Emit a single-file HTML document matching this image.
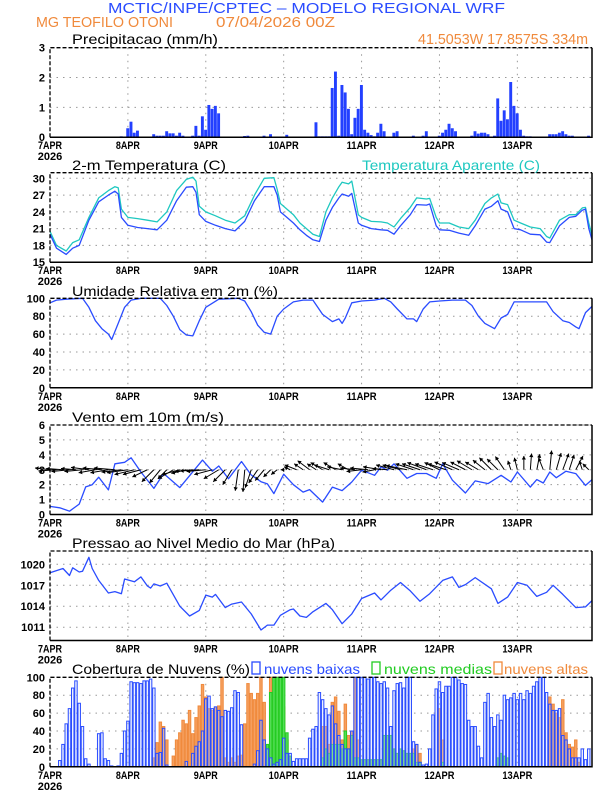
<!DOCTYPE html>
<html><head><meta charset="utf-8"><style>
body{margin:0;background:#fff;}
svg{display:block;font-family:"Liberation Sans","DejaVu Sans",sans-serif;}
.tk{font-size:11px;font-weight:bold;fill:#000;}
.tt{font-size:14px;fill:#000;}
</style></head><body>
<svg id="chart" width="612" height="792" viewBox="0 0 612 792" xmlns="http://www.w3.org/2000/svg">
<text x="108" y="13" font-size="15" fill="#2a4cff" textLength="397" lengthAdjust="spacingAndGlyphs">MCTIC/INPE/CPTEC – MODELO REGIONAL WRF</text>
<text x="36" y="27" font-size="15" fill="#f08a3c" textLength="137" lengthAdjust="spacingAndGlyphs">MG TEOFILO OTONI</text>
<text x="216" y="27" font-size="15" fill="#f08a3c" textLength="119" lengthAdjust="spacingAndGlyphs">07/04/2026 00Z</text>
<text x="418" y="44" font-size="15" fill="#f08a3c" textLength="170" lengthAdjust="spacingAndGlyphs">41.5053W 17.8575S 334m</text>
<text class="tt" x="72" y="44" textLength="146" lengthAdjust="spacingAndGlyphs">Precipitacao (mm/h)</text>
<text class="tt" x="72" y="170" textLength="154" lengthAdjust="spacingAndGlyphs">2-m Temperatura (C)</text>
<text class="tt" x="362" y="170" fill="#1ec8c0" style="fill:#1ec8c0" textLength="178" lengthAdjust="spacingAndGlyphs">Temperatura Aparente (C)</text>
<text class="tt" x="72" y="296" textLength="206" lengthAdjust="spacingAndGlyphs">Umidade Relativa em 2m (%)</text>
<text class="tt" x="72" y="422" textLength="152" lengthAdjust="spacingAndGlyphs">Vento em 10m (m/s)</text>
<text class="tt" x="72" y="548" textLength="263" lengthAdjust="spacingAndGlyphs">Pressao ao Nivel Medio do Mar (hPa)</text>
<text class="tt" x="72" y="674" textLength="178" lengthAdjust="spacingAndGlyphs">Cobertura de Nuvens (%)</text>
<rect x="252" y="662" width="8" height="12" fill="none" stroke="#2a4cff" stroke-width="1.3"/>
<text x="264" y="674" font-size="14" fill="#2a4cff" textLength="96" lengthAdjust="spacingAndGlyphs">nuvens baixas</text>
<rect x="372" y="662" width="8" height="12" fill="none" stroke="#22cc22" stroke-width="1.3"/>
<text x="384" y="674" font-size="14" fill="#22cc22" textLength="108" lengthAdjust="spacingAndGlyphs">nuvens medias</text>
<rect x="494" y="662" width="8" height="12" fill="none" stroke="#f08a3c" stroke-width="1.3"/>
<text x="504" y="674" font-size="14" fill="#f08a3c" textLength="84" lengthAdjust="spacingAndGlyphs">nuvens altas</text>
</svg>
<script>
const dayLabels=["7APR","8APR","9APR","10APR","11APR","12APR","13APR"];
const precipHours=[7,11,22,24,25,26,27,28,29,30,31,32,33,34,35,36,37,38,39,40,41,42,43,44,45,46,47,48,49,50,51,52,60,61,66,68,73,82,83,84,85,86,87,88,89,90,91,92,93,94,95,96,97,98,99,100,101,102,103,106,107,112,115,116,120,121,122,123,124,125,130,131,132,133,134,135,137,138,139,140,141,142,143,144,145,146,147,148,154,155,156,157,158,159,160,161,166];
const precipVals=[0.02,0.02,0.03,0.3,0.52,0.15,0.22,0.02,0.02,0.02,0.02,0.1,0.05,0.05,0.05,0.2,0.13,0.13,0.05,0.15,0.05,0.02,0.02,0.05,0.38,0.05,0.7,0.25,1.08,0.95,1.05,0.8,0.04,0.05,0.05,0.1,0.08,0.5,0.03,0.03,0.03,0.03,1.65,2.2,0.05,1.75,1.5,0.95,0.1,0.65,0.95,1.75,0.25,0.15,0.07,0.03,0.15,0.45,0.2,0.15,0.2,0.05,0.05,0.2,0.05,0.15,0.25,0.45,0.3,0.2,0.05,0.2,0.12,0.15,0.15,0.1,0.05,1.3,0.55,0.9,0.6,1.85,1.05,0.8,0.25,0.05,0.03,0.03,0.1,0.1,0.1,0.15,0.2,0.1,0.05,0.05,0.05];
const tHours=[0,2,5,7,9,12,15,18,20,21,22,24,27,30,33,36,39,42,44,45,46,48,51,54,57,60,63,66,69,70,71,73,75,77,79,81,83,85,87,89,90,92,93,95,96,99,102,104,106,108,111,113,116,117,119,120,123,126,129,131,134,136,138,139,141,143,145,148,151,153,154,157,160,162,164,165,166,167];
const tempVals=[20.0,17.5,16.4,17.5,18.0,22.5,25.8,27.0,27.7,27.2,23.0,21.6,21.2,21.0,20.8,22.5,26.0,28.4,28.5,27.5,23.5,22.3,21.6,21.0,20.6,22.3,26.0,28.5,28.5,27.0,24.0,23.0,22.0,20.8,19.8,19.0,18.7,22.5,24.8,26.5,27.2,26.8,27.3,22.0,21.6,21.0,20.8,20.7,20.0,21.5,23.5,25.3,25.2,25.4,21.5,20.8,20.7,20.2,19.8,21.5,24.5,25.0,26.0,24.5,24.0,21.0,20.8,20.0,19.9,18.6,18.5,21.5,23.0,23.2,24.3,24.5,21.0,19.0];
const appTempVals=[20.5,18.0,17.0,18.5,19.0,23.0,26.5,27.8,28.5,28.3,24.5,23.0,22.8,22.5,22.2,24.0,27.8,29.8,30.2,29.5,25.0,24.0,23.3,22.5,22.0,23.3,27.0,30.0,30.1,28.0,25.5,24.5,23.5,22.0,21.0,20.0,19.6,24.0,26.5,28.5,29.3,29.0,29.5,23.5,23.0,22.3,22.2,22.0,21.3,22.8,24.8,26.5,26.3,26.4,23.0,22.0,22.0,21.3,21.0,22.5,25.5,26.5,27.2,25.6,25.3,22.5,22.0,21.3,21.0,19.6,19.3,22.5,23.5,23.5,24.7,24.8,22.0,19.8];
const rhHours=[0,2,5,10,12,14,16,18,19,21,23,25,28,34,36,38,40,42,44,46,48,52,58,60,62,64,66,68,70,72,75,78,81,84,87,89,90,91,93,96,100,103,105,107,110,112,113,115,117,120,124,128,130,132,134,136,137,139,141,143,146,150,153,155,158,160,162,163,165,167];
const rhVals=[95,98,99,100,90,75,66,60,54,72,90,98,100,100,92,80,65,59,58,75,90,99,100,97,85,70,62,60,80,88,96,98,98,82,74,77,72,78,95,97,98,100,96,88,77,77,74,88,96,97,98,98,92,80,72,68,66,78,82,96,96,96,96,85,75,73,68,66,84,91];
const wsHours=[0,3,5,6,9,11,13,15,18,20,23,25,28,32,35,40,47,50,52,55,59,62,65,67,69,72,75,78,80,84,87,90,93,96,100,102,104,106,110,113,116,119,121,124,128,131,135,139,142,144,148,150,152,154,156,159,162,165,167];
const wsVals=[0.54,0.45,0.3,0.22,0.7,1.85,2.0,2.5,1.65,3.4,3.5,3.8,2.85,1.75,2.75,1.8,3.65,2.9,3.25,2.4,3.55,2.65,2.2,2.05,1.4,2.7,2.0,1.5,1.67,0.83,1.84,1.6,2.18,2.97,2.63,3.19,2.97,3.4,2.43,2.75,2.75,2.43,3.4,2.3,1.44,2.25,2.07,2.63,2.18,2.85,1.84,2.34,2.11,2.85,2.47,2.9,2.74,1.95,2.34];
const windU=[-2.5,-3,-2.8,-3,-2.5,-3,-3,-2.8,-3.2,-3,-3.5,-3.3,-3.5,-3.3,-3,-2.5,-2,-1.8,-1.5,-2.5,-3,-2.5,-3,-3.2,-3.2,-3,-2.5,-2,-1.5,-0.5,-0.3,-1,-1.5,-1.5,-1.2,-1,-0.5,-1,-2,-1.5,-2,-1.5,-2,-2.5,-2,-2.5,-1.8,-2.5,-2.5,-3,-2,-3,-2.5,-3,-3,-3.5,-3,-3,-3.2,-3,-2.5,-3,-3,-2.8,-2.5,-2.5,-2.2,-2,-2,-1.8,-1.5,-0.5,-0.5,0,0.2,0.5,-0.8,0.3,0.8,1,0.8,1.2,-0.5,-1];
const windV=[0.3,-0.2,0.2,-0.3,0.2,-0.3,0.4,-0.5,0.3,-0.5,0.3,-0.4,-0.5,-0.8,-0.8,-1.2,-2,-2.2,-1.5,-1.5,-0.8,-0.6,-0.3,-0.2,-0.3,-0.8,-1.5,-2,-2.5,-3.5,-3.7,-3,-2.2,-1.8,-1.2,-0.8,0,0.5,0.8,1,1.5,1,1.2,0.8,1.2,0.5,1,0.3,-0.3,0.3,-0.4,0.5,0.2,0.8,0.8,0.7,1,1,1.2,1,1.2,1,1.3,1.2,1.3,1.5,1.3,1.6,2,1.8,2.2,1.5,2,2.3,2.7,2.6,2,3.2,2.8,2.7,2.5,2.3,1.5,1];
const pHours=[0,4,6,7,9,10,12,13,15,18,20,22,23,26,28,30,31,32,34,36,40,43,46,48,50,51,54,56,59,62,65,67,69,71,74,75,77,79,81,85,87,90,93,96,100,102,105,108,111,114,117,121,124,126,128,131,136,138,141,144,147,150,153,155,158,162,165,167];
const pVals=[1018.8,1019.4,1018.4,1019.5,1018.9,1019.0,1021.0,1019.4,1017.7,1015.9,1016.1,1015.8,1017.9,1017.5,1018.2,1016.9,1016.6,1017.2,1016.9,1017.3,1014.0,1012.6,1013.4,1015.6,1015.3,1015.7,1013.8,1014.3,1014.6,1012.9,1010.6,1011.3,1011.3,1012.7,1013.5,1013.6,1012.6,1012.4,1013.2,1014.4,1013.5,1011.5,1012.9,1015.1,1015.9,1014.9,1016.3,1017.4,1016.2,1014.7,1015.8,1017.7,1018.2,1016.7,1017.1,1018.1,1016.5,1014.4,1015.3,1017.4,1017.0,1015.4,1016.0,1017.0,1015.7,1013.8,1013.9,1014.8];
const lowCloud=[0,0,0,7,25,48,65,88,96,71,45,9,3,0,0,37,38,9,7,1,0,1,15,40,51,95,94,94,93,96,96,98,88,15,16,43,2,0,0,0,0,0,6,0,15,23,28,40,76,79,65,67,63,56,63,62,66,85,83,47,0,0,0,3,18,52,30,20,10,3,5,8,32,15,15,6,9,9,9,9,32,42,45,83,75,65,58,68,48,35,25,20,20,40,100,100,100,100,98,100,100,95,93,95,88,45,85,93,94,88,100,100,28,25,5,2,3,20,58,87,95,83,90,90,100,100,97,93,92,52,45,45,23,10,72,82,55,45,58,52,80,75,77,82,75,82,75,85,82,90,95,100,100,83,70,63,63,65,35,30,20,10,10,10,20,8,20];
const midCloud=[0,0,0,0,0,0,0,0,0,0,0,0,0,0,0,0,0,0,0,0,0,0,0,0,0,0,0,0,0,0,0,0,0,0,0,0,0,0,0,0,0,0,0,0,0,0,0,0,0,0,0,0,0,0,0,0,0,0,0,0,0,0,0,0,0,0,0,25,83,100,100,100,100,38,12,0,0,0,0,0,0,0,0,0,10,20,15,25,25,25,20,40,20,35,10,10,8,8,8,8,8,8,8,35,35,35,20,15,20,18,15,15,15,5,5,0,0,0,0,0,0,5,0,0,0,0,0,0,0,0,0,0,0,0,0,0,0,0,10,15,12,10,0,0,0,0,0,0,0,0,0,0,0,0,0,0,0,0,0,0,0,0,0,0,0,0,0,0,0];
const highCloud=[0,0,0,0,0,0,0,0,0,0,0,0,0,0,0,0,0,0,0,0,0,0,0,0,0,0,0,0,0,0,0,0,10,27,50,45,30,0,12,30,38,52,48,63,37,55,68,92,78,65,63,66,68,100,10,5,10,5,12,13,48,93,82,75,82,100,72,18,100,100,100,100,67,30,5,0,0,0,0,0,0,0,0,0,45,45,25,72,78,62,30,70,35,40,100,30,0,0,0,0,0,0,0,0,0,0,0,0,0,0,0,0,20,25,15,0,0,0,0,0,65,30,0,0,0,0,0,0,0,0,0,0,0,0,0,0,0,0,0,0,0,0,0,0,0,0,0,0,0,0,0,0,0,0,78,70,60,55,75,38,25,22,30,5,0,0,0];

const svg=document.getElementById('chart');
const NS='http://www.w3.org/2000/svg';
const X0=50,X1=592,HMAX=167,PH=89.5;
function xh(h){return X0+h*(X1-X0)/HMAX;}
function mk(tag,attrs,parent){const e=document.createElementNS(NS,tag);for(const k in attrs)e.setAttribute(k,attrs[k]);(parent||svg).appendChild(e);return e;}
function panel(name,top,min,max,ticks){
  const g=mk('g',{});
  
  
  const y=v=>top+PH-(v-min)/(max-min)*PH;
  ticks.forEach(t=>{
    const l=mk('line',{x1:X0,x2:X1,y1:y(t),y2:y(t),stroke:'#999','stroke-width':1,'stroke-dasharray':'1.5,5'},g);
    
    
    const tx=mk('text',{x:45,y:y(t)+4,'text-anchor':'end',class:'tk'},g);
    
    
    tx.textContent=t;
  });
  dayLabels.forEach((d,i)=>{
    const xx=xh(i*24);
    if(i>0){const l=mk('line',{x1:xx,x2:xx,y1:top,y2:top+PH,stroke:'#999','stroke-width':1,'stroke-dasharray':'1.5,5'},g);
    
    }
    const tx=mk('text',{x:xx,y:top+PH+12,'text-anchor':'middle',class:'tk',textLength:d.length*6,lengthAdjust:'spacingAndGlyphs'},g);
    
    
    tx.textContent=d;
  });
  const yr=mk('text',{x:X0,y:top+PH+23,'text-anchor':'middle',class:'tk'},g);
  
  
  yr.textContent='2026';
  return {g,y,top};
}
function frame(p){
  const b=mk('path',{d:`M${X0},${p.top+PH} L${X0},${p.top} L${X1},${p.top}`,fill:'none',stroke:'#000','stroke-width':1.3,'stroke-dasharray':'4,2'},p.g);
  
  
  const s=mk('path',{d:`M${X1},${p.top} L${X1},${p.top+PH} L${X0},${p.top+PH}`,fill:'none',stroke:'#000','stroke-width':1.5},p.g);
  
  
}
function line(p,hours,vals,color,name){
  const d=hours.map((h,i)=>(i?'L':'M')+xh(h).toFixed(1)+','+p.y(vals[i]).toFixed(1)).join(' ');
  const e=mk('path',{d,fill:'none',stroke:color,'stroke-width':1.3,'stroke-linejoin':'round'},p.g);
  
  
}
const bw=(X1-X0)/HMAX;
// precip
const p1=panel('precip',47.7,0,3,[0,1,2,3]);
precipHours.forEach((h,i)=>{
  const r=mk('rect',{x:xh(h)-bw/2,y:p1.y(precipVals[i]),width:bw*0.9,height:p1.y(0)-p1.y(precipVals[i]),fill:'#2340ff'},p1.g);
  
  
});
frame(p1);
// temp
const p2=panel('temp',172.7,15,31,[15,18,21,24,27,30]);
line(p2,tHours,appTempVals,'#1ec8c0','apparent-temp-line');
line(p2,tHours,tempVals,'#2a4cff','temp-line');
frame(p2);
// rh
const p3=panel('rh',298.3,0,100,[0,20,40,60,80,100]);
line(p3,rhHours,rhVals,'#2a4cff','rh-line');
frame(p3);
// wind
const p4=panel('wind',425,0,6,[0,1,2,3,4,5,6]);
line(p4,wsHours,wsVals,'#2a4cff','wind-speed-line');
const k=6,by=p4.y(3);
windU.forEach((u,i)=>{
  const x0=xh(i*2),x1=x0+u*k,y1=by-windV[i]*k;
  const a=mk('line',{x1:x0,y1:by,x2:x1,y2:y1,stroke:'#000','stroke-width':1},p4.g);
  
  
  const L=Math.hypot(x1-x0,y1-by)||1,ux=(x1-x0)/L,uy=(y1-by)/L,hs=3.5;
  const hd=mk('polygon',{points:`${x1},${y1} ${x1-ux*hs-uy*hs*0.6},${y1-uy*hs+ux*hs*0.6} ${x1-ux*hs+uy*hs*0.6},${y1-uy*hs-ux*hs*0.6}`,fill:'#000'},p4.g);
  
  
});
frame(p4);
// pressure
const p5=panel('pressure',551,1009.1,1021.9,[1011,1014,1017,1020]);
line(p5,pHours,pVals,'#2a4cff','pressure-line');
frame(p5);
// clouds
const p6=panel('cloud',677.3,0,100,[0,20,40,60,80,100]);
function cbars(arr,fill,stroke,name){
  arr.forEach((v,h)=>{
    if(v<=0)return;
    const r=mk('rect',{x:xh(h)-bw/2+0.4,y:p6.y(v),width:bw-0.8,height:p6.y(0)-p6.y(v),fill,stroke,'stroke-width':1},p6.g);
    
    
  });
}
cbars(highCloud,'#f5a060','#f08a3c','high-cloud-bar');
cbars(midCloud,'#55dd55','#22cc22','mid-cloud-bar');
cbars(lowCloud,'rgba(200,215,255,0.35)','#2a4cff','low-cloud-bar');
frame(p6);
</script>
</body></html>
